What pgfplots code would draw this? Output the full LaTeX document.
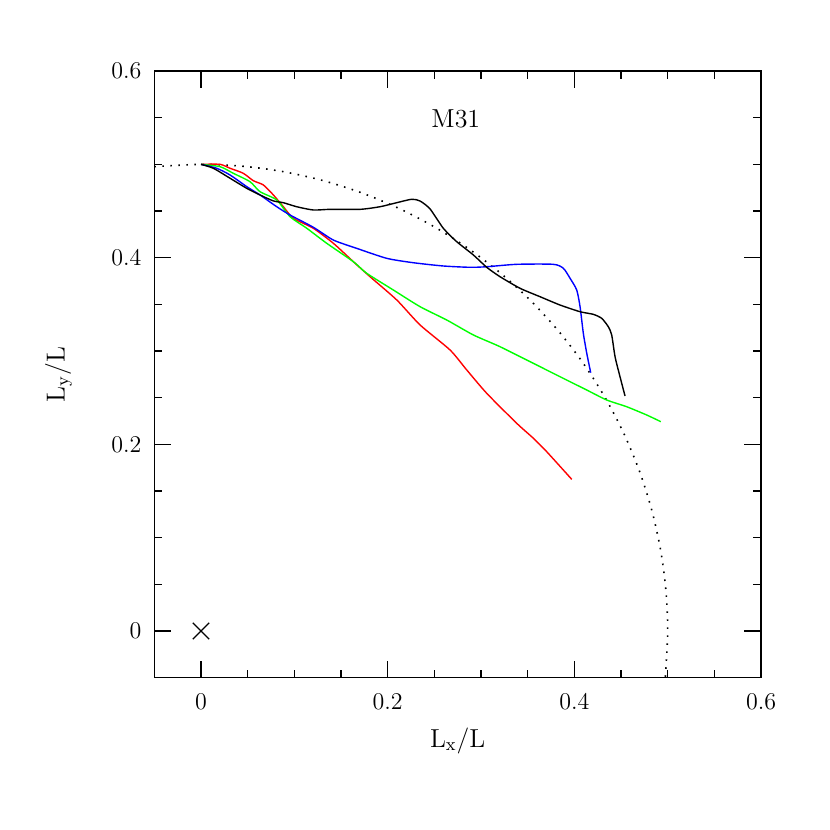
\documentclass[border=0pt]{standalone}
\usepackage{pgfplots}
\pgfplotsset{compat=1.18}
\begin{document}
\begin{tikzpicture}
\begin{axis}[
  scale only axis, width=303.33pt, height=303.33pt,
  xmin=-0.05, xmax=0.6, ymin=-0.05, ymax=0.6,
  xtick={0,0.2,0.4,0.6}, ytick={0,0.2,0.4,0.6},
  minor tick num=3,
  tick align=inside,
  major tick length=8.5pt, minor tick length=4pt,
  every tick/.style={black, line width=0.6pt},
  axis line style={line width=0.7pt},
  tick label style={font=\fontsize{13}{15}\selectfont},
  label style={font=\fontsize{13}{15}\selectfont},
  xticklabel style={yshift=-4.5pt},
  yticklabel style={xshift=-3pt},
  xlabel={L$_{\mathrm{x}}$/L},
  ylabel={L$_{\mathrm{y}}$/L},
  xlabel style={at={(axis description cs:0.5,-0.104)}, anchor=center},
  ylabel style={at={(axis description cs:-0.158,0.5)}, anchor=center},
  clip=false,
  every axis plot/.append style={line width=0.7pt},
]
\path (axis cs:-0.2154,-0.2132) rectangle (axis cs:0.6739,0.6761);
% dotted circle
\addplot[black, dash pattern=on 0.8pt off 3.2pt, smooth, line width=0.8pt] coordinates {
(-0.05,0.4975) (0,0.5) (0.04358,0.49810) (0.08682,0.49240) (0.12941,0.48296)
(0.17101,0.46985) (0.21131,0.45315) (0.25,0.43301) (0.28679,0.40958)
(0.32139,0.38302) (0.35355,0.35355) (0.38302,0.32139) (0.40958,0.28679)
(0.43301,0.25) (0.45315,0.21131) (0.46985,0.17101) (0.48296,0.12941)
(0.49240,0.08682) (0.49810,0.04358) (0.5,0) (0.4975,-0.05)};
% red
\addplot[red, smooth, tension=0.4] coordinates {
(0,0.5) (0.0204,0.5000) (0.0311,0.4958) (0.0453,0.4904) (0.0560,0.4825)
(0.0668,0.4779) (0.0775,0.4672) (0.0882,0.4546) (0.0989,0.4422) (0.1203,0.4315)
(0.1418,0.4154) (0.1632,0.3957) (0.1811,0.3796) (0.2097,0.3547) (0.2347,0.3279)
(0.2668,0.3011) (0.2847,0.2797) (0.3061,0.2547) (0.3383,0.2225) (0.3561,0.2065)
(0.3704,0.1921) (0.3972,0.1625)};
% green
\addplot[green, smooth, tension=0.4] coordinates {
(0,0.5) (0.0204,0.4975) (0.0346,0.4904) (0.0525,0.4814) (0.0632,0.4707)
(0.0811,0.4618) (0.0954,0.4439) (0.1133,0.4315) (0.1347,0.4154) (0.1632,0.3957)
(0.1775,0.3833) (0.2060,0.3654) (0.2347,0.3475) (0.2633,0.3332) (0.2918,0.3172)
(0.3204,0.3046) (0.3561,0.2868) (0.3846,0.2725) (0.4133,0.2582) (0.4347,0.2475)
(0.4561,0.2403) (0.4776,0.2314) (0.4926,0.2243)};
% blue
\addplot[blue, smooth, tension=0.4] coordinates {
(0,0.5) (0.0168,0.4958) (0.0311,0.4886) (0.0490,0.4761) (0.0632,0.4672)
(0.0811,0.4546) (0.0954,0.4457) (0.1203,0.4326) (0.1418,0.4189) (0.1668,0.4100)
(0.1990,0.3993) (0.2275,0.3946) (0.2596,0.3911) (0.2882,0.3897) (0.3061,0.3903)
(0.3383,0.3929) (0.3775,0.3929) (0.3882,0.3886) (0.3954,0.3779) (0.4025,0.3654)
(0.4061,0.3475) (0.4096,0.3190) (0.4133,0.2975) (0.4175,0.2768)};
% black
\addplot[black, smooth, tension=0.4] coordinates {
(0,0.5) (0.0132,0.4958) (0.0311,0.4851) (0.0490,0.4743) (0.0632,0.4672)
(0.0775,0.4608) (0.0882,0.4589) (0.1025,0.4546) (0.1203,0.4511) (0.1382,0.4518)
(0.1704,0.4518) (0.1918,0.4546) (0.2097,0.4589) (0.2258,0.4626) (0.2347,0.4607)
(0.2454,0.4522) (0.2596,0.4315) (0.2740,0.4171) (0.2918,0.4029) (0.3061,0.3897)
(0.3204,0.3796) (0.3418,0.3672) (0.3632,0.3582) (0.3846,0.3493) (0.4061,0.3421)
(0.4203,0.3393) (0.4293,0.3350) (0.4364,0.3260) (0.4400,0.3172) (0.4436,0.2939)
(0.4489,0.2725) (0.4543,0.2518)};
% centre
\addplot[black, only marks, mark=x, mark size=5.8pt, mark options={line width=0.6pt}] coordinates {(0,0)};
\node[font=\fontsize{13}{15}\selectfont] at (axis cs:0.273,0.549) {M31};
\end{axis}
\end{tikzpicture}
\end{document}
